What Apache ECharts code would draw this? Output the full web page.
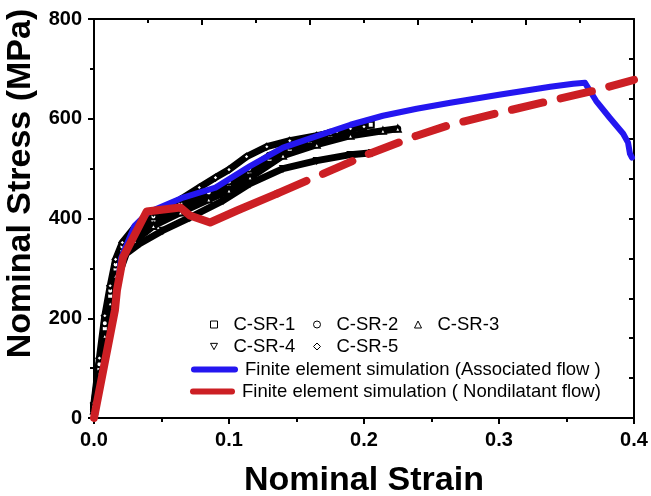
<!DOCTYPE html>
<html>
<head>
<meta charset="utf-8">
<script src="https://cdn.jsdelivr.net/npm/echarts@6.0.0/dist/echarts.min.js"></script>
<style>
html,body{margin:0;padding:0;background:#fff;}
#c{width:651px;height:496px;}
</style>
</head>
<body>
<div id="c"></div>
<script>
// ---- data (strain, stress MPa) ----
const csr1 = [[0,20],[0.004,100],[0.008,180],[0.012,245],[0.016,300],[0.021,338],[0.030,368],[0.044,398],[0.064,426],[0.085,450],[0.100,470],[0.115,494],[0.130,520],[0.145,540],[0.160,556],[0.175,568],[0.190,579],[0.205,588]];
const csr2 = [[0,25],[0.004,108],[0.008,190],[0.012,255],[0.016,308],[0.021,344],[0.030,374],[0.044,404],[0.064,430],[0.085,452],[0.100,474],[0.115,500],[0.130,526],[0.145,546],[0.160,560],[0.175,572],[0.190,580],[0.200,584]];
const csr3 = [[0,15],[0.004,90],[0.008,165],[0.012,230],[0.016,285],[0.021,325],[0.030,355],[0.044,385],[0.064,412],[0.085,438],[0.100,456],[0.1156,482],[0.140,526],[0.165,548],[0.190,566],[0.214,576],[0.225,580]];
const csr4 = [[0,10],[0.004,80],[0.008,150],[0.012,215],[0.016,270],[0.024,330],[0.034,350],[0.051,376],[0.071,402],[0.0956,436],[0.1156,470],[0.140,500],[0.165,516],[0.190,528],[0.206,532]];
const csr5 = [[0,30],[0.004,120],[0.008,205],[0.012,265],[0.016,318],[0.021,352],[0.030,382],[0.044,412],[0.064,438],[0.078,462],[0.090,482],[0.100,498],[0.113,524],[0.128,544],[0.145,556],[0.165,566],[0.180,574],[0.190,580],[0.200,584]];
const feAssociated = [[0,0],[0.0155,220],[0.020,320],[0.030,385],[0.040,412],[0.066,442],[0.090,462],[0.1156,505],[0.140,542],[0.165,565],[0.190,588],[0.214,606],[0.239,620],[0.264,632],[0.300,648],[0.338,664],[0.355,670],[0.3637,672],[0.3719,636],[0.382,602],[0.392,570],[0.3956,552],[0.397,530],[0.3985,522]];
const feNondilSolid = [[0,0],[0.0155,216],[0.017,256],[0.0215,322],[0.039,414],[0.064,422],[0.071,406],[0.086,392],[0.106,416],[0.1356,450]];
const feNondilDashed = [[0.1356,450],[0.170,490],[0.204,530],[0.239,566],[0.264,588],[0.300,612],[0.338,636],[0.370,656],[0.400,678]];
const xTicks = [0, 0.1, 0.2, 0.3, 0.4];
const yTicks = [0, 200, 400, 600, 800];

const FONT = '"Liberation Sans", Arial, sans-serif';
const BLUE = '#2416f0';
const RED = '#cc1f24';

const chart = echarts.init(document.getElementById('c'), null, {renderer: 'canvas'});

function expSeries(name, data, sym) {
  return {
    name: name, type: 'line', data: data, xAxisIndex: 0, yAxisIndex: 0,
    symbol: sym, symbolSize: 6, showAllSymbol: true,
    lineStyle: {color: '#000', width: 7, join: 'round', cap: 'round'},
    itemStyle: {color: '#000', borderColor: '#000', borderWidth: 1.5},
    z: 2, animation: false
  };
}

function symLegend(name, icon, left, top) {
  return {
    data: [{name: name, icon: icon}], left: left, top: top, orient: 'horizontal',
    itemWidth: 7, itemHeight: 7, selectedMode: false,
    itemStyle: {color: '#fff', borderColor: '#000', borderWidth: 1},
    textStyle: {fontFamily: FONT, fontSize: 18.5, color: '#000', padding: [0, 0, 0, 11]}
  };
}
function lineLegend(name, color, left, top, w) {
  return {
    data: [{name: name, icon: 'path://M3,0 L43,0 A3,3 0 0 1 43,6 L3,6 A3,3 0 0 1 3,0 Z'}],
    left: left, top: top, itemWidth: w, itemHeight: 7, selectedMode: false,
    itemStyle: {color: color, borderWidth: 0},
    textStyle: {fontFamily: FONT, fontSize: 18.5, color: '#000', padding: [0, 0, 0, 2]}
  };
}

const axisLineStyle = {color: '#000', width: 2};
const option = {
  backgroundColor: '#fff',
  animation: false,
  grid: {left: 94, right: 17, top: 19, bottom: 78, containLabel: false, outerBoundsMode: 'none'},
  legend: [
    symLegend('C-SR-1', 'rect', 205, 310),
    symLegend('C-SR-2', 'circle', 308, 310),
    symLegend('C-SR-3', 'triangle', 409, 310),
    symLegend('C-SR-4', 'path://M0,0 L10,0 L5,9 Z', 205, 332),
    symLegend('C-SR-5', 'diamond', 308, 332),
    lineLegend('Finite element simulation (Associated flow )', BLUE, 186, 355, 47),
    lineLegend('Finite element simulation ( Nondilatant flow)', RED, 185, 377, 45)
  ],
  xAxis: [
    {
      type: 'value', position: 'bottom', min: 0, max: 0.4, interval: 0.1,
      axisLine: {show: true, onZero: false, lineStyle: axisLineStyle},
      axisTick: {show: true, inside: false, length: 6, lineStyle: {color: '#000', width: 2}},
      minorTick: {show: true, splitNumber: 2, length: 4, lineStyle: {color: '#000', width: 2}},
      splitLine: {show: false},
      axisLabel: {show: true, margin: 12, fontFamily: FONT, fontWeight: 'bold', fontSize: 20, color: '#000',
        formatter: v => v.toFixed(1), customValues: xTicks},
      name: 'Nominal Strain', nameLocation: 'middle', nameGap: 46,
      nameTextStyle: {fontFamily: FONT, fontWeight: 'bold', fontSize: 34, color: '#000'}
    },
    {
      type: 'value', position: 'top', min: 0, max: 0.4, interval: 0.08,
      axisLine: {show: true, onZero: false, lineStyle: axisLineStyle},
      axisTick: {show: true, inside: true, length: 6, lineStyle: {color: '#000', width: 2}},
      minorTick: {show: true, splitNumber: 2, length: 4, lineStyle: {color: '#000', width: 2}},
      splitLine: {show: false},
      axisLabel: {show: false}
    }
  ],
  yAxis: [
    {
      type: 'value', position: 'left', min: 0, max: 800, interval: 200,
      axisLine: {show: true, onZero: false, lineStyle: axisLineStyle},
      axisTick: {show: true, inside: false, length: 6, lineStyle: {color: '#000', width: 2}},
      minorTick: {show: true, splitNumber: 2, length: 4, lineStyle: {color: '#000', width: 2}},
      splitLine: {show: false},
      axisLabel: {show: true, margin: 12, fontFamily: FONT, fontWeight: 'bold', fontSize: 20, color: '#000', customValues: yTicks},
      name: 'Nominal Stress (MPa)', nameLocation: 'middle', nameGap: 55, nameRotate: 90,
      nameTextStyle: {fontFamily: FONT, fontWeight: 'bold', fontSize: 34, color: '#000', padding: [0, 0, 0, 70]}
    },
    {
      type: 'value', position: 'right', min: 0, max: 800, interval: 80,
      axisLine: {show: true, onZero: false, lineStyle: axisLineStyle},
      axisTick: {show: true, inside: true, length: 5, lineStyle: {color: '#000', width: 2}},
      splitLine: {show: false},
      axisLabel: {show: false}
    }
  ],
  series: [
    expSeries('C-SR-1', csr1, 'emptyRect'),
    expSeries('C-SR-2', csr2, 'emptyCircle'),
    expSeries('C-SR-3', csr3, 'emptyTriangle'),
    expSeries('C-SR-4', csr4, 'path://M0,0 L10,0 L5,9 Z'),
    expSeries('C-SR-5', csr5, 'emptyDiamond'),
    {
      name: 'Finite element simulation (Associated flow )', type: 'line', data: feAssociated,
      xAxisIndex: 0, yAxisIndex: 0, showSymbol: false, symbol: 'none',
      lineStyle: {color: BLUE, width: 6, cap: 'round', join: 'round'}, itemStyle: {color: BLUE}, z: 3
    },
    {
      name: 'Finite element simulation ( Nondilatant flow)', type: 'line', data: feNondilSolid,
      xAxisIndex: 0, yAxisIndex: 0, showSymbol: false, symbol: 'none',
      lineStyle: {color: RED, width: 8, cap: 'round', join: 'round'}, itemStyle: {color: RED}, z: 4
    },
    {
      name: 'Finite element simulation ( Nondilatant flow)', type: 'line', data: feNondilDashed,
      xAxisIndex: 0, yAxisIndex: 0, showSymbol: false, symbol: 'none',
      lineStyle: {color: RED, width: 8, type: [32, 18], cap: 'round', join: 'round'}, itemStyle: {color: RED}, z: 4
    }
  ]
};
chart.setOption(option);
</script>
</body>
</html>
